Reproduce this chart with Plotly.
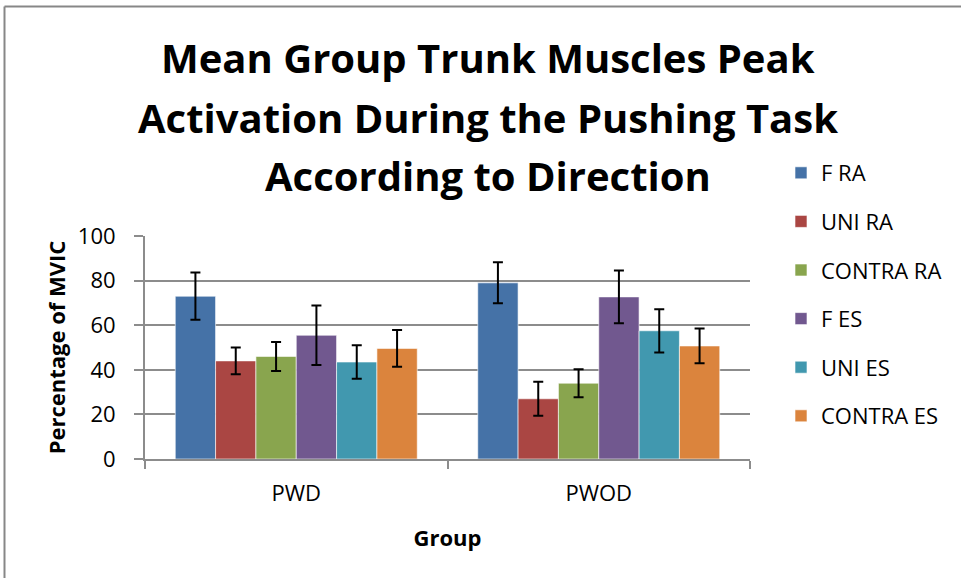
import plotly.graph_objects as go

# Data: mean peak activation (% MVIC) with standard deviations
groups = ["PWD", "PWOD"]
muscles = ["F RA", "UNI RA", "CONTRA RA", "F ES", "UNI ES", "CONTRA ES"]
means = {
    "F RA":      [73.0, 79.0],
    "UNI RA":    [44.0, 27.0],
    "CONTRA RA": [46.0, 34.0],
    "F ES":      [55.5, 72.7],
    "UNI ES":    [43.5, 57.5],
    "CONTRA ES": [49.6, 50.7],
}
errors = {
    "F RA":      [10.6, 9.2],
    "UNI RA":    [6.0, 7.6],
    "CONTRA RA": [6.5, 6.3],
    "F ES":      [13.3, 11.8],
    "UNI ES":    [7.5, 9.7],
    "CONTRA ES": [8.2, 7.8],
}
colors = ["#4572A7", "#AA4643", "#89A54E", "#71588F", "#4198AF", "#DB843D"]
y_ticks = [0, 20, 40, 60, 80, 100]
title_lines = [
    "Mean Group Trunk Muscles Peak",
    "Activation During the Pushing Task",
    "According to Direction",
]

FONT = "Open Sans"
GRID = "#8c8c8c"

fig = go.Figure()
for name, col in zip(muscles, colors):
    fig.add_trace(go.Bar(
        name=name,
        x=groups,
        y=means[name],
        legendgroup=name,
        marker=dict(color=col, line=dict(color="rgba(255,255,255,0.6)", width=1)),
        error_y=dict(type="data", array=errors[name], visible=True,
                     color="black", thickness=2, width=5),
    ))

W, H = 961, 578
L, R, T, B = 145, 750, 236, 459
pw, ph = R - L, B - T

def px_x(v):
    return (v - L) / pw

def px_y(v):
    return (B - v) / ph

# three-line chart title, each line placed on its own row
title_rows = [58, 117, 175]
annotations = [
    dict(text=f"<b>{line}</b>", xref="paper", yref="paper",
         x=px_x(488), y=px_y(yc), xanchor="center", yanchor="middle",
         showarrow=False, font=dict(family=FONT, size=40, color="black"))
    for line, yc in zip(title_lines, title_rows)
]

fig.update_layout(
    width=W, height=H,
    margin=dict(l=L, r=W - R, t=T, b=H - B),
    paper_bgcolor="white", plot_bgcolor="white",
    barmode="group", bargap=0.2, bargroupgap=0,
    font=dict(family=FONT, color="black"),
    annotations=annotations,
    legend=dict(
        x=px_x(781), xanchor="left",
        y=px_y(152), yanchor="top",
        font=dict(family=FONT, size=22, color="black"),
        tracegroupgap=17,
        traceorder="grouped",
        bgcolor="rgba(0,0,0,0)",
        maxheight=420,
    ),
    xaxis=dict(
        showgrid=False,
        showline=True, linecolor=GRID, linewidth=2,
        ticks="outside", tickson="boundaries", ticklen=8, tickcolor=GRID, tickwidth=2,
        tickfont=dict(family=FONT, size=22),
        ticklabelstandoff=14,
        title=dict(text="<b>Group</b>", font=dict(family=FONT, size=22), standoff=24),
    ),
    yaxis=dict(
        range=[0, 100], tickvals=y_ticks,
        showgrid=True, gridcolor=GRID, gridwidth=2,
        showline=True, linecolor=GRID, linewidth=2,
        ticks="outside", ticklen=9, tickcolor=GRID, tickwidth=2,
        tickfont=dict(family=FONT, size=22),
        ticklabelstandoff=14,
        zeroline=False,
        title=dict(text="<b>Percentage of MVIC</b>", font=dict(family=FONT, size=22), standoff=6),
    ),
    shapes=[
        dict(type="line", xref="paper", yref="paper",
             x0=px_x(4.5), x1=px_x(W + 5), y0=px_y(6.5), y1=px_y(6.5),
             line=dict(color="#878787", width=2)),
        dict(type="line", xref="paper", yref="paper",
             x0=px_x(4.5), x1=px_x(4.5), y0=px_y(6.5), y1=px_y(H + 5),
             line=dict(color="#878787", width=2)),
    ],
)

fig.write_html("out.html")
